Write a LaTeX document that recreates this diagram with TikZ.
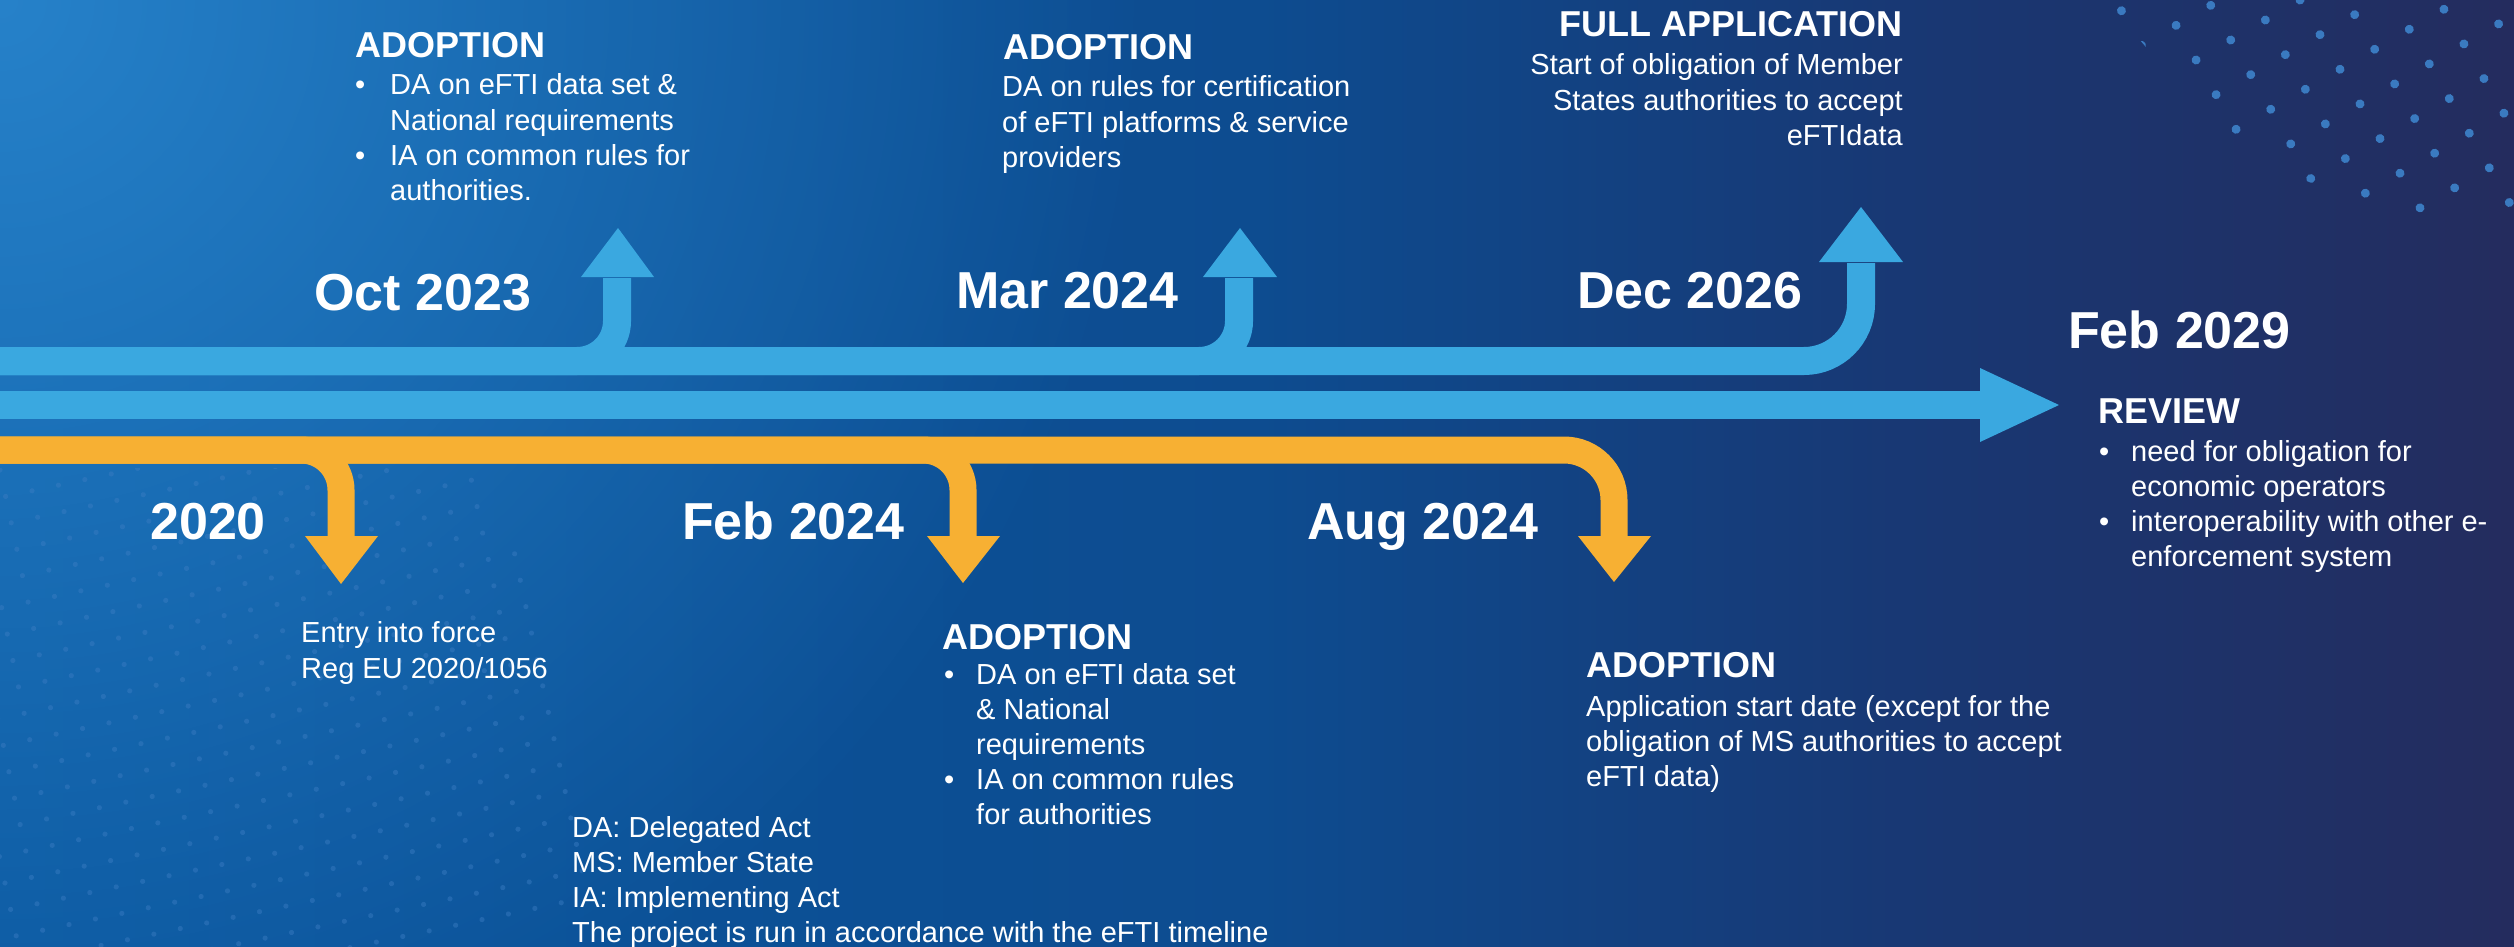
\documentclass[tikz,border=0pt]{standalone}
\usepackage{fontspec}
\setmainfont{Liberation Sans}
\usetikzlibrary{fadings}
\definecolor{bgA}{RGB}{10,86,158}
\definecolor{bgB}{RGB}{13,76,144}
\definecolor{bgC}{RGB}{24,56,116}
\definecolor{bgD}{RGB}{36,44,94}
\definecolor{glowc}{RGB}{40,132,204}
\definecolor{lblue}{RGB}{58,168,224}
\definecolor{lorange}{RGB}{247,176,51}
\definecolor{dotc}{RGB}{58,122,192}
\definecolor{dotf}{RGB}{60,125,195}
\pgfdeclarehorizontalshading{bgshade}{100bp}{color(0bp)=(bgA); color(25bp)=(bgA); color(50bp)=(bgB); color(62.8bp)=(bgC); color(75bp)=(bgD); color(100bp)=(bgD)}
\tikzfading[name=glowfade, inner color=transparent!5, outer color=transparent!100]
\newcommand\bul[1]{\makebox[#1pt][l]{\textbullet}}
\newcommand\skp[1]{\hspace*{#1pt}}
\tikzset{
  blueline/.style={draw=lblue, line width=28pt},
  orangeline/.style={draw=lorange, line width=27pt},
  bluehead/.style={fill=lblue},
  orangehead/.style={fill=lorange},
  datelbl/.style={text=white, font=\fontsize{52}{62}\selectfont\bfseries, inner sep=0pt, anchor=base west},
  headlbl/.style={text=white, font=\fontsize{36}{43}\selectfont\bfseries, inner sep=0pt, anchor=base west},
  bodylbl/.style={text=white, font=\fontsize{29}{35.2}\selectfont, inner sep=0pt, anchor=base west},
  fdot/.style={fill=dotf, opacity=0.45},
  tdot/.style={fill=dotc},
}
\begin{document}
\begin{tikzpicture}[x=1pt,y=-1pt]
\useasboundingbox (0,0) rectangle (2514,947);
% background
\shade[shading=bgshade] (0,0) rectangle (2514,947);
\fill[glowc, path fading=glowfade] (0,0) circle (1150);
% faint dots bottom-left
\begin{scope}
  \clip (0,468) -- (470,468) .. controls (560,600) and (610,800) .. (570,950) -- (0,950) -- cycle;
  \begin{scope}[shift={(0,470)}, rotate=12]
    \foreach \i in {-4,...,24} \foreach \j in {-4,...,20} \fill[fdot] (\i*27,\j*27) circle (2.6);
  \end{scope}
\end{scope}
% dots top-right
\begin{scope}
  \clip plot[smooth] coordinates {(2100,-5) (2153,55) (2197,105) (2245,148) (2302,179) (2363,200) (2427,213) (2520,218)} -- (2520,-5) -- cycle;
  \begin{scope}[shift={(2300,0)}, rotate=30]
    \foreach \i in {-8,...,10} \foreach \j in {-8,...,10} \fill[tdot] (\i*40,\j*40) circle (4.5);
  \end{scope}
\end{scope}
% coordinates
\coordinate (start1) at (0,361);
\coordinate (start2) at (0,405);
\coordinate (start3) at (0,450);
% upper blue line with branches
\draw[blueline, rounded corners=40pt] (start1) -- (617,361) -- (617,278) coordinate (octbase);
\draw[blueline, rounded corners=40pt] (start1) -- (1239,361) -- (1239,278) coordinate (marbase);
\draw[blueline, rounded corners=57pt] (start1) -- (1861,361) -- (1861,263) coordinate (decbase);
\fill[bluehead] (581,277) -- (654,277) -- (618,228) -- cycle;
\fill[bluehead] (1203,277) -- (1277,277) -- (1240,228) -- cycle;
\fill[bluehead] (1819,262) -- (1903,262) -- (1861,207) -- cycle;
% middle blue line
\draw[blueline] (start2) -- (1981,405) coordinate (revbase);
\fill[bluehead] (1980,368) -- (1980,442) -- (2059,405) -- cycle;
% orange line with branches
\draw[orangeline, rounded corners=40pt] (start3) -- (341,450) -- (341,537) coordinate (b2020);
\draw[orangeline, rounded corners=40pt] (start3) -- (963,450) -- (963,537) coordinate (bfeb);
\draw[orangeline, rounded corners=50pt] (start3) -- (1614,450) -- (1614,537) coordinate (baug);
\fill[orangehead] (305,536) -- (378,536) -- (341,584) -- cycle;
\fill[orangehead] (927,536) -- (1000,536) -- (963,583) -- cycle;
\fill[orangehead] (1578,536) -- (1651,536) -- (1614,582) -- cycle;
% dates
\node[datelbl] (doct) at (314,310) {Oct 2023};
\node[datelbl] (dmar) at (956,308) {Mar 2024};
\node[datelbl] (ddec) at (1577,308) {Dec 2026};
\node[datelbl] (dfeb29) at (2068,348) {Feb 2029};
\node[datelbl] (d2020) at (150,539) {2020};
\node[datelbl] (dfeb24) at (682,539) {Feb 2024};
\node[datelbl] (daug) at (1307,539) {Aug 2024};
% headings
\node[headlbl] (h1) at (355,58) {ADOPTION};
\node[headlbl] (h2) at (1003,60) {ADOPTION};
\node[headlbl, anchor=base east] (h3) at (1903,37) {FULL APPLICATION};
\node[headlbl] (h4) at (2098,423) {REVIEW};
\node[headlbl] (h5) at (942,649) {ADOPTION};
\node[headlbl] (h6) at (1586,677) {ADOPTION};
% bodies
\node[bodylbl] (t1) at (355,95) {\begin{tabular}[t]{@{}l@{}}
\bul{35}DA on eFTI data set \&\\
\skp{35}National requirements\\
\bul{35}IA on common rules for\\
\skp{35}authorities.\end{tabular}};
\node[bodylbl] (t2) at (1002,97) {\begin{tabular}[t]{@{}l@{}}
DA on rules for certification\\
of eFTI platforms \& service\\
providers\end{tabular}};
\node[bodylbl, anchor=base east] (t3) at (1903,75) {\begin{tabular}[t]{@{}r@{}}
Start of obligation of Member\\
States authorities to accept\\
eFTIdata\end{tabular}};
\node[bodylbl] (t4) at (2099,461) {\begin{tabular}[t]{@{}l@{}}
\bul{32}need for obligation for\\
\skp{32}economic operators\\
\bul{32}interoperability with other e-\\
\skp{32}enforcement system\end{tabular}};
\node[bodylbl, font=\fontsize{29}{36.5}\selectfont] (t5) at (301,642) {\begin{tabular}[t]{@{}l@{}}
Entry into force\\
Reg EU 2020/1056\end{tabular}};
\node[bodylbl] (t6) at (944,684) {\begin{tabular}[t]{@{}l@{}}
\bul{32}DA on eFTI data set\\
\skp{32}\& National\\
\skp{32}requirements\\
\bul{32}IA on common rules\\
\skp{32}for authorities\end{tabular}};
\node[bodylbl] (t7) at (1586,716) {\begin{tabular}[t]{@{}l@{}}
Application start date (except for the\\
obligation of MS authorities to accept\\
eFTI data)\end{tabular}};
\node[bodylbl] (legend) at (572,837) {\begin{tabular}[t]{@{}l@{}}
DA: Delegated Act\\
MS: Member State\\
IA: Implementing Act\\
The project is run in accordance with the eFTI timeline\end{tabular}};
\end{tikzpicture}
\end{document}
